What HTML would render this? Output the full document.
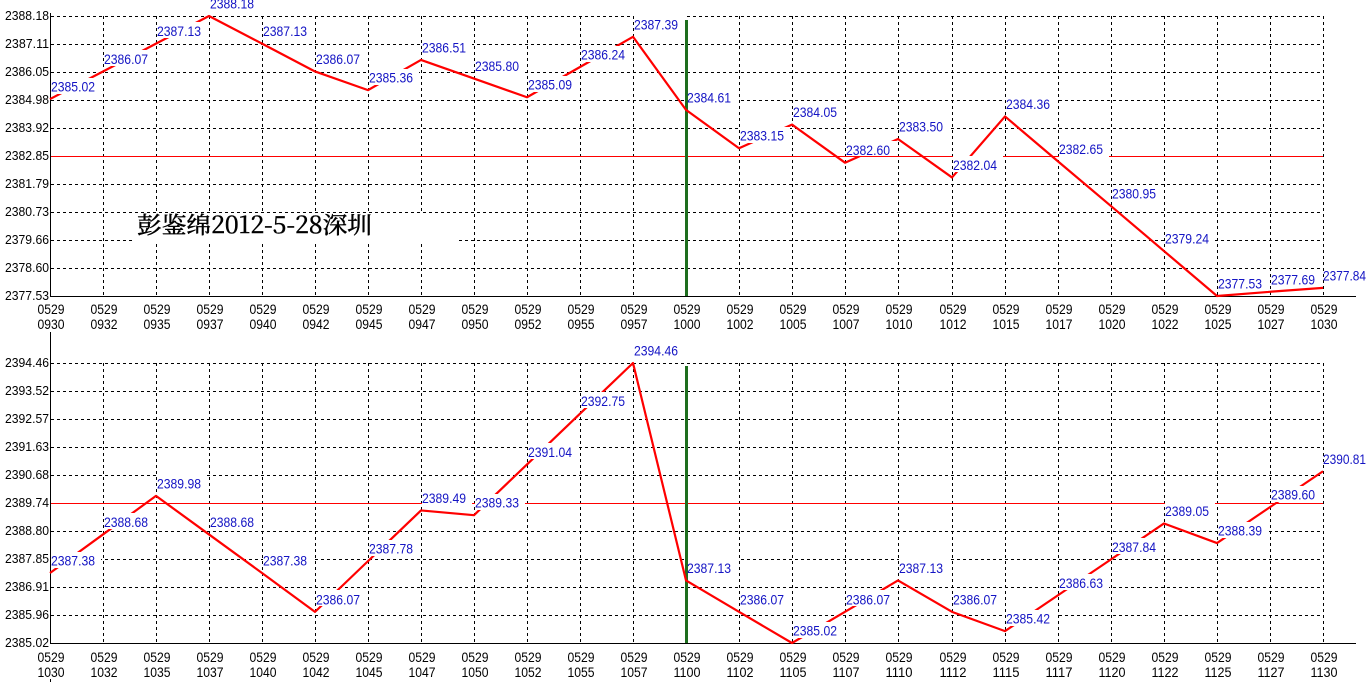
<!DOCTYPE html>
<html><head><meta charset="utf-8"><style>
html,body{margin:0;padding:0;background:#fff;width:1366px;height:693px;overflow:hidden}
svg{display:block}
.ax{font-family:"Liberation Sans",sans-serif;font-size:13px;fill:#000}
.xl{font-family:"Liberation Sans",sans-serif;font-size:14px;fill:#000}
.bl{font-family:"Liberation Sans",sans-serif;font-size:14px;fill:#1414c4}
</style></head><body>
<svg width="1366" height="693" viewBox="0 0 1366 693" xmlns="http://www.w3.org/2000/svg">
<rect width="1366" height="693" fill="#fff"/>
<g stroke="#000" stroke-width="1" stroke-dasharray="3,3" fill="none" shape-rendering="crispEdges">
<path d="M51 16.5H1323M51 44.5H1323M51 72.5H1323M51 100.5H1323M51 128.5H1323M51 184.5H1323M51 212.5H1323M51 240.5H1323M51 268.5H1323"/>
<path d="M103.5 16V296M156.5 16V296M209.5 16V296M262.5 16V296M315.5 16V296M368.5 16V296M421.5 16V296M474.5 16V296M527.5 16V296M580.5 16V296M633.5 16V296M739.5 16V296M792.5 16V296M845.5 16V296M898.5 16V296M952.5 16V296M1005.5 16V296M1058.5 16V296M1111.5 16V296M1164.5 16V296M1217.5 16V296M1270.5 16V296M1323.5 16V296"/>
<path d="M51 363.5H1323M51 391.5H1323M51 419.5H1323M51 447.5H1323M51 475.5H1323M51 531.5H1323M51 559.5H1323M51 587.5H1323M51 615.5H1323"/>
<path d="M103.5 363V643M156.5 363V643M209.5 363V643M262.5 363V643M315.5 363V643M368.5 363V643M421.5 363V643M474.5 363V643M527.5 363V643M580.5 363V643M633.5 363V643M739.5 363V643M792.5 363V643M845.5 363V643M898.5 363V643M952.5 363V643M1005.5 363V643M1058.5 363V643M1111.5 363V643M1164.5 363V643M1217.5 363V643M1270.5 363V643M1323.5 363V643"/>
<path d="M50.5 679V685"/>
</g>
<!-- Chinese caption box -->
<rect x="133" y="213" width="325" height="28" fill="#fff"/>
<text x="137" y="233" font-family="'Noto Serif CJK SC','Liberation Serif',serif" font-size="23" textLength="235" lengthAdjust="spacingAndGlyphs" fill="#000" stroke="#000" stroke-width="0.5">彭鉴绵2012-5-28深圳</text>
<!-- reference lines -->
<g shape-rendering="crispEdges">
<path d="M50 156.5H1323" stroke="#ff0000" stroke-width="1"/>
<path d="M50 503.5H1323" stroke="#ff0000" stroke-width="1"/>
<path d="M686.5 20V296M686.5 366V643" stroke="#1e6e1e" stroke-width="3"/>
<path d="M50.5 13V296.5H1356M50.5 332V643.5H1356" stroke="#000" stroke-width="1" fill="none"/>
</g>
<!-- data lines -->
<polyline fill="none" stroke="#ff0000" stroke-width="2.2" stroke-linejoin="round" points="50,99.08 103,71.47 156,43.61 209,16 262,43.61 315,71.47 368,90.14 421,59.91 474,78.57 527,97.24 580,67 633,36.77 686,109.86 739,148.24 792,124.58 845,162.7 898,139.04 952,177.43 1005,116.43 1058,161.39 1111,206.08 1164,251.04 1217,296 1270,291.79 1323,287.85"/>
<polyline fill="none" stroke="#ff0000" stroke-width="2.2" stroke-linejoin="round" points="50,573 103,534.44 156,495.88 209,534.44 262,573 315,611.86 368,561.14 421,510.42 474,515.16 527,464.44 580,413.72 633,363 686,580.42 739,611.86 792,643 845,611.86 898,580.42 952,611.86 1005,631.14 1058,595.25 1111,559.36 1164,523.47 1217,543.04 1270,507.15 1323,471.26"/>
<!-- label boxes -->
<g fill="#fff">
<rect x="51" y="78" width="50" height="16"/><rect x="104" y="50" width="50" height="16"/><rect x="157" y="22" width="50" height="16"/><rect x="210" y="-5" width="50" height="16"/><rect x="263" y="22" width="50" height="16"/><rect x="316" y="50" width="50" height="16"/><rect x="369" y="69" width="50" height="16"/><rect x="422" y="38" width="50" height="16"/><rect x="475" y="57" width="50" height="16"/><rect x="528" y="76" width="50" height="16"/><rect x="581" y="46" width="50" height="16"/><rect x="634" y="15" width="50" height="16"/><rect x="688" y="88" width="50" height="16"/><rect x="740" y="127" width="50" height="16"/><rect x="793" y="103" width="50" height="16"/><rect x="846" y="141" width="50" height="15"/><rect x="899" y="118" width="50" height="16"/><rect x="953" y="156" width="50" height="16"/><rect x="1006" y="95" width="50" height="16"/><rect x="1059" y="140" width="50" height="17"/><rect x="1112" y="185" width="50" height="16"/><rect x="1165" y="230" width="50" height="16"/><rect x="1218" y="275" width="50" height="16"/><rect x="1271" y="270" width="50" height="16"/><rect x="1324" y="266" width="50" height="16"/>
<rect x="51" y="552" width="50" height="16"/><rect x="104" y="513" width="50" height="16"/><rect x="157" y="474" width="50" height="16"/><rect x="210" y="513" width="50" height="16"/><rect x="263" y="552" width="50" height="16"/><rect x="316" y="590" width="50" height="16"/><rect x="369" y="540" width="50" height="16"/><rect x="422" y="489" width="50" height="16"/><rect x="475" y="494" width="50" height="16"/><rect x="528" y="443" width="50" height="16"/><rect x="581" y="392" width="50" height="16"/><rect x="634" y="342" width="50" height="16"/><rect x="688" y="559" width="50" height="16"/><rect x="740" y="590" width="50" height="16"/><rect x="793" y="622" width="50" height="16"/><rect x="846" y="590" width="50" height="16"/><rect x="899" y="559" width="50" height="16"/><rect x="953" y="590" width="50" height="16"/><rect x="1006" y="610" width="50" height="16"/><rect x="1059" y="574" width="50" height="16"/><rect x="1112" y="538" width="50" height="16"/><rect x="1165" y="502" width="50" height="16"/><rect x="1218" y="522" width="50" height="16"/><rect x="1271" y="486" width="50" height="16"/><rect x="1324" y="450" width="50" height="16"/>
</g>
<!-- value labels -->
<g class="bl">
<text x="51" y="91.58" textLength="44" lengthAdjust="spacingAndGlyphs">2385.02</text>
<text x="104" y="63.97" textLength="44" lengthAdjust="spacingAndGlyphs">2386.07</text>
<text x="157" y="36.11" textLength="44" lengthAdjust="spacingAndGlyphs">2387.13</text>
<text x="210" y="8.5" textLength="44" lengthAdjust="spacingAndGlyphs">2388.18</text>
<text x="263" y="36.11" textLength="44" lengthAdjust="spacingAndGlyphs">2387.13</text>
<text x="316" y="63.97" textLength="44" lengthAdjust="spacingAndGlyphs">2386.07</text>
<text x="369" y="82.64" textLength="44" lengthAdjust="spacingAndGlyphs">2385.36</text>
<text x="422" y="52.41" textLength="44" lengthAdjust="spacingAndGlyphs">2386.51</text>
<text x="475" y="71.07" textLength="44" lengthAdjust="spacingAndGlyphs">2385.80</text>
<text x="528" y="89.74" textLength="44" lengthAdjust="spacingAndGlyphs">2385.09</text>
<text x="581" y="59.5" textLength="44" lengthAdjust="spacingAndGlyphs">2386.24</text>
<text x="634" y="29.27" textLength="44" lengthAdjust="spacingAndGlyphs">2387.39</text>
<text x="687" y="102.36" textLength="44" lengthAdjust="spacingAndGlyphs">2384.61</text>
<text x="740" y="140.74" textLength="44" lengthAdjust="spacingAndGlyphs">2383.15</text>
<text x="793" y="117.08" textLength="44" lengthAdjust="spacingAndGlyphs">2384.05</text>
<text x="846" y="155.2" textLength="44" lengthAdjust="spacingAndGlyphs">2382.60</text>
<text x="899" y="131.54" textLength="44" lengthAdjust="spacingAndGlyphs">2383.50</text>
<text x="953" y="169.93" textLength="44" lengthAdjust="spacingAndGlyphs">2382.04</text>
<text x="1006" y="108.93" textLength="44" lengthAdjust="spacingAndGlyphs">2384.36</text>
<text x="1059" y="153.89" textLength="44" lengthAdjust="spacingAndGlyphs">2382.65</text>
<text x="1112" y="198.58" textLength="44" lengthAdjust="spacingAndGlyphs">2380.95</text>
<text x="1165" y="243.54" textLength="44" lengthAdjust="spacingAndGlyphs">2379.24</text>
<text x="1218" y="288.5" textLength="44" lengthAdjust="spacingAndGlyphs">2377.53</text>
<text x="1271" y="284.29" textLength="44" lengthAdjust="spacingAndGlyphs">2377.69</text>
<text x="1323" y="280.35" textLength="43" lengthAdjust="spacingAndGlyphs">2377.84</text>

<text x="51" y="565.5" textLength="44" lengthAdjust="spacingAndGlyphs">2387.38</text>
<text x="104" y="526.94" textLength="44" lengthAdjust="spacingAndGlyphs">2388.68</text>
<text x="157" y="488.38" textLength="44" lengthAdjust="spacingAndGlyphs">2389.98</text>
<text x="210" y="526.94" textLength="44" lengthAdjust="spacingAndGlyphs">2388.68</text>
<text x="263" y="565.5" textLength="44" lengthAdjust="spacingAndGlyphs">2387.38</text>
<text x="316" y="604.36" textLength="44" lengthAdjust="spacingAndGlyphs">2386.07</text>
<text x="369" y="553.64" textLength="44" lengthAdjust="spacingAndGlyphs">2387.78</text>
<text x="422" y="502.92" textLength="44" lengthAdjust="spacingAndGlyphs">2389.49</text>
<text x="475" y="507.66" textLength="44" lengthAdjust="spacingAndGlyphs">2389.33</text>
<text x="528" y="456.94" textLength="44" lengthAdjust="spacingAndGlyphs">2391.04</text>
<text x="581" y="406.22" textLength="44" lengthAdjust="spacingAndGlyphs">2392.75</text>
<text x="634" y="355.5" textLength="44" lengthAdjust="spacingAndGlyphs">2394.46</text>
<text x="687" y="572.92" textLength="44" lengthAdjust="spacingAndGlyphs">2387.13</text>
<text x="740" y="604.36" textLength="44" lengthAdjust="spacingAndGlyphs">2386.07</text>
<text x="793" y="635.5" textLength="44" lengthAdjust="spacingAndGlyphs">2385.02</text>
<text x="846" y="604.36" textLength="44" lengthAdjust="spacingAndGlyphs">2386.07</text>
<text x="899" y="572.92" textLength="44" lengthAdjust="spacingAndGlyphs">2387.13</text>
<text x="953" y="604.36" textLength="44" lengthAdjust="spacingAndGlyphs">2386.07</text>
<text x="1006" y="623.64" textLength="44" lengthAdjust="spacingAndGlyphs">2385.42</text>
<text x="1059" y="587.75" textLength="44" lengthAdjust="spacingAndGlyphs">2386.63</text>
<text x="1112" y="551.86" textLength="44" lengthAdjust="spacingAndGlyphs">2387.84</text>
<text x="1165" y="515.97" textLength="44" lengthAdjust="spacingAndGlyphs">2389.05</text>
<text x="1218" y="535.54" textLength="44" lengthAdjust="spacingAndGlyphs">2388.39</text>
<text x="1271" y="499.65" textLength="44" lengthAdjust="spacingAndGlyphs">2389.60</text>
<text x="1323" y="463.76" textLength="43" lengthAdjust="spacingAndGlyphs">2390.81</text>
</g>
<!-- y axis labels -->
<g class="ax">
<text x="5" y="20" textLength="44" lengthAdjust="spacingAndGlyphs">2388.18</text>
<text x="5" y="48" textLength="44" lengthAdjust="spacingAndGlyphs">2387.11</text>
<text x="5" y="76" textLength="44" lengthAdjust="spacingAndGlyphs">2386.05</text>
<text x="5" y="104" textLength="44" lengthAdjust="spacingAndGlyphs">2384.98</text>
<text x="5" y="132" textLength="44" lengthAdjust="spacingAndGlyphs">2383.92</text>
<text x="5" y="160" textLength="44" lengthAdjust="spacingAndGlyphs">2382.85</text>
<text x="5" y="188" textLength="44" lengthAdjust="spacingAndGlyphs">2381.79</text>
<text x="5" y="216" textLength="44" lengthAdjust="spacingAndGlyphs">2380.73</text>
<text x="5" y="244" textLength="44" lengthAdjust="spacingAndGlyphs">2379.66</text>
<text x="5" y="272" textLength="44" lengthAdjust="spacingAndGlyphs">2378.60</text>
<text x="5" y="300" textLength="44" lengthAdjust="spacingAndGlyphs">2377.53</text>
<text x="5" y="367" textLength="44" lengthAdjust="spacingAndGlyphs">2394.46</text>
<text x="5" y="395" textLength="44" lengthAdjust="spacingAndGlyphs">2393.52</text>
<text x="5" y="423" textLength="44" lengthAdjust="spacingAndGlyphs">2392.57</text>
<text x="5" y="451" textLength="44" lengthAdjust="spacingAndGlyphs">2391.63</text>
<text x="5" y="479" textLength="44" lengthAdjust="spacingAndGlyphs">2390.68</text>
<text x="5" y="507" textLength="44" lengthAdjust="spacingAndGlyphs">2389.74</text>
<text x="5" y="535" textLength="44" lengthAdjust="spacingAndGlyphs">2388.80</text>
<text x="5" y="563" textLength="44" lengthAdjust="spacingAndGlyphs">2387.85</text>
<text x="5" y="591" textLength="44" lengthAdjust="spacingAndGlyphs">2386.91</text>
<text x="5" y="619" textLength="44" lengthAdjust="spacingAndGlyphs">2385.96</text>
<text x="5" y="647" textLength="44" lengthAdjust="spacingAndGlyphs">2385.02</text>
</g>
<!-- x axis labels -->
<g class="xl" text-anchor="middle">
<text x="51" y="314" textLength="27" lengthAdjust="spacingAndGlyphs">0529</text><text x="51" y="329" textLength="27" lengthAdjust="spacingAndGlyphs">0930</text>
<text x="104" y="314" textLength="27" lengthAdjust="spacingAndGlyphs">0529</text><text x="104" y="329" textLength="27" lengthAdjust="spacingAndGlyphs">0932</text>
<text x="157" y="314" textLength="27" lengthAdjust="spacingAndGlyphs">0529</text><text x="157" y="329" textLength="27" lengthAdjust="spacingAndGlyphs">0935</text>
<text x="210" y="314" textLength="27" lengthAdjust="spacingAndGlyphs">0529</text><text x="210" y="329" textLength="27" lengthAdjust="spacingAndGlyphs">0937</text>
<text x="263" y="314" textLength="27" lengthAdjust="spacingAndGlyphs">0529</text><text x="263" y="329" textLength="27" lengthAdjust="spacingAndGlyphs">0940</text>
<text x="316" y="314" textLength="27" lengthAdjust="spacingAndGlyphs">0529</text><text x="316" y="329" textLength="27" lengthAdjust="spacingAndGlyphs">0942</text>
<text x="369" y="314" textLength="27" lengthAdjust="spacingAndGlyphs">0529</text><text x="369" y="329" textLength="27" lengthAdjust="spacingAndGlyphs">0945</text>
<text x="422" y="314" textLength="27" lengthAdjust="spacingAndGlyphs">0529</text><text x="422" y="329" textLength="27" lengthAdjust="spacingAndGlyphs">0947</text>
<text x="475" y="314" textLength="27" lengthAdjust="spacingAndGlyphs">0529</text><text x="475" y="329" textLength="27" lengthAdjust="spacingAndGlyphs">0950</text>
<text x="528" y="314" textLength="27" lengthAdjust="spacingAndGlyphs">0529</text><text x="528" y="329" textLength="27" lengthAdjust="spacingAndGlyphs">0952</text>
<text x="581" y="314" textLength="27" lengthAdjust="spacingAndGlyphs">0529</text><text x="581" y="329" textLength="27" lengthAdjust="spacingAndGlyphs">0955</text>
<text x="634" y="314" textLength="27" lengthAdjust="spacingAndGlyphs">0529</text><text x="634" y="329" textLength="27" lengthAdjust="spacingAndGlyphs">0957</text>
<text x="687" y="314" textLength="27" lengthAdjust="spacingAndGlyphs">0529</text><text x="687" y="329" textLength="27" lengthAdjust="spacingAndGlyphs">1000</text>
<text x="740" y="314" textLength="27" lengthAdjust="spacingAndGlyphs">0529</text><text x="740" y="329" textLength="27" lengthAdjust="spacingAndGlyphs">1002</text>
<text x="793" y="314" textLength="27" lengthAdjust="spacingAndGlyphs">0529</text><text x="793" y="329" textLength="27" lengthAdjust="spacingAndGlyphs">1005</text>
<text x="846" y="314" textLength="27" lengthAdjust="spacingAndGlyphs">0529</text><text x="846" y="329" textLength="27" lengthAdjust="spacingAndGlyphs">1007</text>
<text x="899" y="314" textLength="27" lengthAdjust="spacingAndGlyphs">0529</text><text x="899" y="329" textLength="27" lengthAdjust="spacingAndGlyphs">1010</text>
<text x="953" y="314" textLength="27" lengthAdjust="spacingAndGlyphs">0529</text><text x="953" y="329" textLength="27" lengthAdjust="spacingAndGlyphs">1012</text>
<text x="1006" y="314" textLength="27" lengthAdjust="spacingAndGlyphs">0529</text><text x="1006" y="329" textLength="27" lengthAdjust="spacingAndGlyphs">1015</text>
<text x="1059" y="314" textLength="27" lengthAdjust="spacingAndGlyphs">0529</text><text x="1059" y="329" textLength="27" lengthAdjust="spacingAndGlyphs">1017</text>
<text x="1112" y="314" textLength="27" lengthAdjust="spacingAndGlyphs">0529</text><text x="1112" y="329" textLength="27" lengthAdjust="spacingAndGlyphs">1020</text>
<text x="1165" y="314" textLength="27" lengthAdjust="spacingAndGlyphs">0529</text><text x="1165" y="329" textLength="27" lengthAdjust="spacingAndGlyphs">1022</text>
<text x="1218" y="314" textLength="27" lengthAdjust="spacingAndGlyphs">0529</text><text x="1218" y="329" textLength="27" lengthAdjust="spacingAndGlyphs">1025</text>
<text x="1271" y="314" textLength="27" lengthAdjust="spacingAndGlyphs">0529</text><text x="1271" y="329" textLength="27" lengthAdjust="spacingAndGlyphs">1027</text>
<text x="1324" y="314" textLength="27" lengthAdjust="spacingAndGlyphs">0529</text><text x="1324" y="329" textLength="27" lengthAdjust="spacingAndGlyphs">1030</text>

<text x="51" y="662" textLength="27" lengthAdjust="spacingAndGlyphs">0529</text><text x="51" y="677" textLength="27" lengthAdjust="spacingAndGlyphs">1030</text>
<text x="104" y="662" textLength="27" lengthAdjust="spacingAndGlyphs">0529</text><text x="104" y="677" textLength="27" lengthAdjust="spacingAndGlyphs">1032</text>
<text x="157" y="662" textLength="27" lengthAdjust="spacingAndGlyphs">0529</text><text x="157" y="677" textLength="27" lengthAdjust="spacingAndGlyphs">1035</text>
<text x="210" y="662" textLength="27" lengthAdjust="spacingAndGlyphs">0529</text><text x="210" y="677" textLength="27" lengthAdjust="spacingAndGlyphs">1037</text>
<text x="263" y="662" textLength="27" lengthAdjust="spacingAndGlyphs">0529</text><text x="263" y="677" textLength="27" lengthAdjust="spacingAndGlyphs">1040</text>
<text x="316" y="662" textLength="27" lengthAdjust="spacingAndGlyphs">0529</text><text x="316" y="677" textLength="27" lengthAdjust="spacingAndGlyphs">1042</text>
<text x="369" y="662" textLength="27" lengthAdjust="spacingAndGlyphs">0529</text><text x="369" y="677" textLength="27" lengthAdjust="spacingAndGlyphs">1045</text>
<text x="422" y="662" textLength="27" lengthAdjust="spacingAndGlyphs">0529</text><text x="422" y="677" textLength="27" lengthAdjust="spacingAndGlyphs">1047</text>
<text x="475" y="662" textLength="27" lengthAdjust="spacingAndGlyphs">0529</text><text x="475" y="677" textLength="27" lengthAdjust="spacingAndGlyphs">1050</text>
<text x="528" y="662" textLength="27" lengthAdjust="spacingAndGlyphs">0529</text><text x="528" y="677" textLength="27" lengthAdjust="spacingAndGlyphs">1052</text>
<text x="581" y="662" textLength="27" lengthAdjust="spacingAndGlyphs">0529</text><text x="581" y="677" textLength="27" lengthAdjust="spacingAndGlyphs">1055</text>
<text x="634" y="662" textLength="27" lengthAdjust="spacingAndGlyphs">0529</text><text x="634" y="677" textLength="27" lengthAdjust="spacingAndGlyphs">1057</text>
<text x="687" y="662" textLength="27" lengthAdjust="spacingAndGlyphs">0529</text><text x="687" y="677" textLength="27" lengthAdjust="spacingAndGlyphs">1100</text>
<text x="740" y="662" textLength="27" lengthAdjust="spacingAndGlyphs">0529</text><text x="740" y="677" textLength="27" lengthAdjust="spacingAndGlyphs">1102</text>
<text x="793" y="662" textLength="27" lengthAdjust="spacingAndGlyphs">0529</text><text x="793" y="677" textLength="27" lengthAdjust="spacingAndGlyphs">1105</text>
<text x="846" y="662" textLength="27" lengthAdjust="spacingAndGlyphs">0529</text><text x="846" y="677" textLength="27" lengthAdjust="spacingAndGlyphs">1107</text>
<text x="899" y="662" textLength="27" lengthAdjust="spacingAndGlyphs">0529</text><text x="899" y="677" textLength="27" lengthAdjust="spacingAndGlyphs">1110</text>
<text x="953" y="662" textLength="27" lengthAdjust="spacingAndGlyphs">0529</text><text x="953" y="677" textLength="27" lengthAdjust="spacingAndGlyphs">1112</text>
<text x="1006" y="662" textLength="27" lengthAdjust="spacingAndGlyphs">0529</text><text x="1006" y="677" textLength="27" lengthAdjust="spacingAndGlyphs">1115</text>
<text x="1059" y="662" textLength="27" lengthAdjust="spacingAndGlyphs">0529</text><text x="1059" y="677" textLength="27" lengthAdjust="spacingAndGlyphs">1117</text>
<text x="1112" y="662" textLength="27" lengthAdjust="spacingAndGlyphs">0529</text><text x="1112" y="677" textLength="27" lengthAdjust="spacingAndGlyphs">1120</text>
<text x="1165" y="662" textLength="27" lengthAdjust="spacingAndGlyphs">0529</text><text x="1165" y="677" textLength="27" lengthAdjust="spacingAndGlyphs">1122</text>
<text x="1218" y="662" textLength="27" lengthAdjust="spacingAndGlyphs">0529</text><text x="1218" y="677" textLength="27" lengthAdjust="spacingAndGlyphs">1125</text>
<text x="1271" y="662" textLength="27" lengthAdjust="spacingAndGlyphs">0529</text><text x="1271" y="677" textLength="27" lengthAdjust="spacingAndGlyphs">1127</text>
<text x="1324" y="662" textLength="27" lengthAdjust="spacingAndGlyphs">0529</text><text x="1324" y="677" textLength="27" lengthAdjust="spacingAndGlyphs">1130</text>
</g>
</svg>
</body></html>
